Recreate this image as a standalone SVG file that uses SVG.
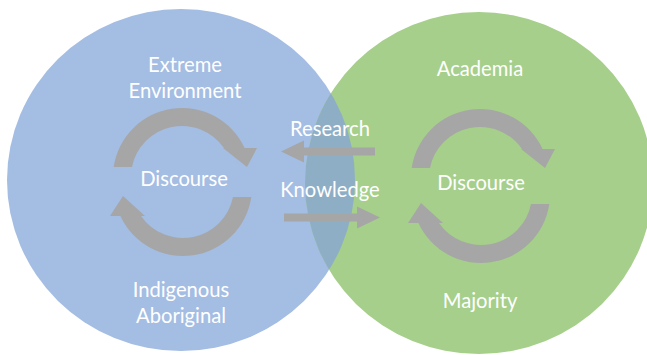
<svg xmlns="http://www.w3.org/2000/svg" width="647" height="355" viewBox="0 0 647 355">
  <style>
    .label { font-family: Lato, "Liberation Sans", sans-serif; font-size: 20.2px; fill: #ffffff; text-anchor: middle; }
    .cycle { fill: #a6a6a6; }
    .flow { fill: #a6a6a6; }
  </style>
  <defs>
    <!-- upper half of a discourse cycle: arc over the top, head pointing down-right -->
    <path id="arc-top" d="M113.7,167 A69,69 0 0 1 244.6,148 L257,148 L247,167 L223,148 L224,148 A51,51 0 0 0 132,167 Z"/>
    <!-- lower half: arc under the bottom, head pointing up-left -->
    <path id="arc-bottom" d="M251.3,197 A69,69 0 0 1 120.4,216 L110,216 L123,196 L145,216 L141,216 A51,51 0 0 0 233,197 Z"/>
    <clipPath id="blue-clip">
      <ellipse cx="181" cy="180" rx="174" ry="171"/>
    </clipPath>
  </defs>

  <rect width="647" height="355" fill="#ffffff"/>

  <!-- left sphere -->
  <g id="indigenous-sphere">
    <ellipse cx="181" cy="180" rx="174" ry="171" fill="#a4bde3"/>
  </g>

  <!-- right sphere -->
  <g id="academic-sphere">
    <ellipse cx="479" cy="183" rx="174" ry="171" fill="#a6cf8b"/>
    <!-- shared region where the two spheres meet -->
    <ellipse cx="479" cy="183" rx="174" ry="171" fill="#8eaec6" clip-path="url(#blue-clip)"/>
  </g>

  <g id="left-labels">
    <text class="label" x="185" y="72">Extreme</text>
    <text class="label" x="185" y="98">Environment</text>
    <text class="label" x="181" y="297">Indigenous</text>
    <text class="label" x="181" y="323">Aboriginal</text>
  </g>

  <g id="left-discourse">
    <use href="#arc-top" class="cycle"/>
    <use href="#arc-bottom" class="cycle"/>
    <text class="label" x="184" y="186">Discourse</text>
  </g>

  <g id="right-labels">
    <text class="label" x="480" y="76">Academia</text>
    <text class="label" x="480" y="308">Majority</text>
  </g>

  <g id="right-discourse">
    <use href="#arc-top" class="cycle" transform="translate(298,1)"/>
    <use href="#arc-bottom" class="cycle" transform="translate(298,7)"/>
    <text class="label" x="481" y="190">Discourse</text>
  </g>

  <!-- exchanges between the two spheres -->
  <g id="connectors">
    <g id="research">
      <path class="flow" d="M375,147.5 L304,147.5 L304,140.5 L281,151.5 L304,162.5 L304,155.5 L375,155.5 Z"/>
      <text class="label" x="330" y="136">Research</text>
    </g>
    <g id="knowledge">
      <path class="flow" d="M284,213.5 L357,213.5 L357,206.5 L380,217.5 L357,228.5 L357,221.5 L284,221.5 Z"/>
      <text class="label" x="330" y="197">Knowledge</text>
    </g>
  </g>
</svg>
